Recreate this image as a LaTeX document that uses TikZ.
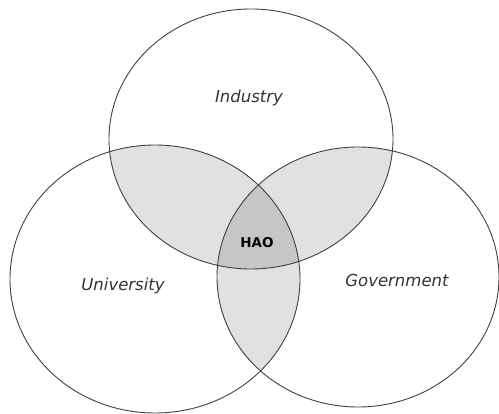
\documentclass[tikz,border=0pt]{standalone}
\usepackage{fontspec}
\setsansfont{DejaVu Sans}
\definecolor{pairgray}{HTML}{E1E1E1}
\definecolor{coregray}{HTML}{C6C6C6}
\definecolor{rimgray}{HTML}{404040}
\definecolor{textgray}{HTML}{333333}

\begin{document}
\begin{tikzpicture}[x=1pt, y=-1pt]
        \tikzset{
            sector/.style={font=\sffamily\itshape\fontsize{16.5}{18}\selectfont, text=textgray},
            core/.style={font=\sffamily\bfseries\fontsize{13.5}{15}\selectfont, text=black},
            rim/.style={draw=rimgray, line width=0.9pt}
        }
        \useasboundingbox (0,0) rectangle (499,414);
        \coordinate (ind) at (251,139);
        \coordinate (uni) at (155,279);
        \coordinate (gov) at (358,277);
        % pairwise overlaps
        \begin{scope}
            \clip (ind) ellipse (142 and 130);
            \fill[pairgray] (uni) ellipse (145 and 134);
            \fill[pairgray] (gov) ellipse (141 and 130);
        \end{scope}
        \begin{scope}
            \clip (uni) ellipse (145 and 134);
            \fill[pairgray] (gov) ellipse (141 and 130);
        \end{scope}
        % centre
        \begin{scope}
            \clip (ind) ellipse (142 and 130);
            \clip (uni) ellipse (145 and 134);
            \fill[coregray] (gov) ellipse (141 and 130);
        \end{scope}
        \draw[rim] (ind) ellipse (142 and 130);
        \draw[rim] (uni) ellipse (145 and 134);
        \draw[rim] (gov) ellipse (141 and 130);
        \node[sector] (industry) at (249,98) {Industry};
        \node[sector] (university) at (123,286) {University};
        \node[sector] (government) at (397,280) {Government};
        \node[core] (hao) at (257,243) {HAO};
\end{tikzpicture}
\end{document}
